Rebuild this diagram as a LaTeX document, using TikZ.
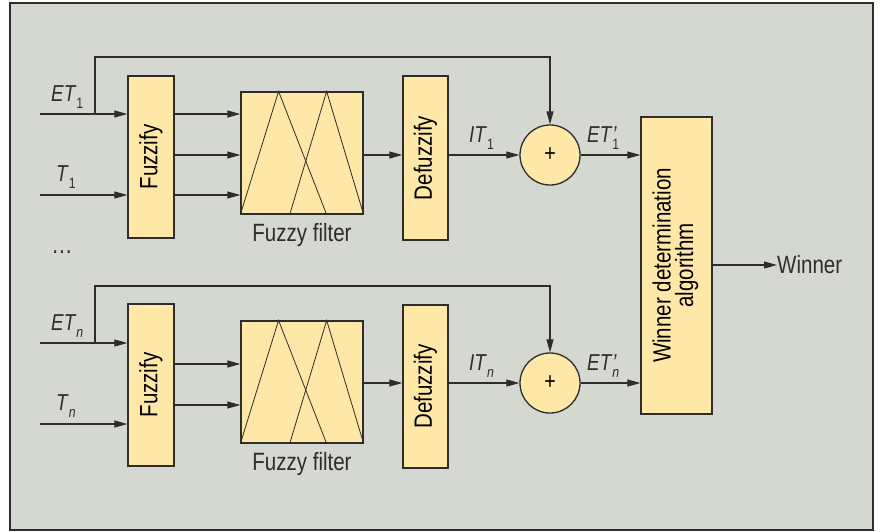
\documentclass[tikz,border=0pt]{standalone}
\usepackage{fontspec}
\setmainfont{Liberation Sans}[FakeStretch=0.82]
\usetikzlibrary{arrows.meta,calc}
\definecolor{bgc}{RGB}{213,216,209}
\definecolor{boxc}{RGB}{255,231,167}
\definecolor{linec}{RGB}{45,45,45}
\newcommand{\lbl}[3]{\textit{#1}\makebox[0pt][l]{\textit{#3}}\raisebox{-7pt}{\fontsize{15}{15}\selectfont #2}}
\begin{document}
\begin{tikzpicture}[x=1pt,y=-1pt,
  box/.style={draw=linec,fill=boxc,line width=1.3pt,inner sep=0pt,font=\fontsize{25}{25}\selectfont},
  conn/.style={draw=linec,line width=1.1pt},
  arr/.style={conn,-{Triangle[length=13pt,width=7pt]}},
  lab/.style={font=\fontsize{23}{23}\selectfont,inner sep=0pt,anchor=base west,text=linec}]
\useasboundingbox (0,0) rectangle (880,531);
\fill[bgc,draw=linec,line width=1.2pt] (10,3) rectangle (873,530);
% ---------- top channel ----------
\node[box,minimum width=46,minimum height=162] (fz1) at (151,157) {\rotatebox{90}{Fuzzify}};
\node[box,minimum width=122,minimum height=122] (ff1) at (302,153) {};
\node[box,minimum width=45,minimum height=164] (df1) at (425.5,158) {\rotatebox{90}{Defuzzify}};
\node[box,circle,minimum size=60,font=\fontsize{24}{24}\selectfont] (s1) at (550,155) {+};
% ---------- bottom channel ----------
\node[box,minimum width=46,minimum height=162] (fz2) at (151,385) {\rotatebox{90}{Fuzzify}};
\node[box,minimum width=122,minimum height=122] (ff2) at (302,382) {};
\node[box,minimum width=45,minimum height=163] (df2) at (425.5,386.5) {\rotatebox{90}{Defuzzify}};
\node[box,circle,minimum size=60,font=\fontsize{24}{24}\selectfont] (s2) at (550,383) {+};
% ---------- winner ----------
\node[box,minimum width=71,minimum height=297] (wd) at (676.5,265.5) {\rotatebox{90}{\begin{tabular}{@{}c@{}}Winner determination\\[-3pt]algorithm\end{tabular}}};
\node[font=\fontsize{25}{25}\selectfont,anchor=west,inner sep=0pt,text=linec] (win) at (777,265) {Winner};
% triangles in filters
\foreach \f in {ff1,ff2}{
  \draw[linec,line width=0.8pt] (\f.south west) -- ($(\f.north west)!0.31!(\f.north east)$) -- ($(\f.south west)!0.70!(\f.south east)$);
  \draw[linec,line width=0.8pt] ($(\f.south west)!0.40!(\f.south east)$) -- ($(\f.north west)!0.70!(\f.north east)$) -- (\f.south east);
}
\node[font=\fontsize{25}{25}\selectfont,anchor=north,inner sep=0pt,text=linec] (fl1) at ($(ff1.south)+(0,9)$) {Fuzzy filter};
\node[font=\fontsize{25}{25}\selectfont,anchor=north,inner sep=0pt,text=linec] (fl2) at ($(ff2.south)+(0,9)$) {Fuzzy filter};
% inputs
\coordinate (et1) at (40,114);
\coordinate (t1) at (40,195);
\coordinate (etn) at (40,343);
\coordinate (tn) at (40,424);
\draw[arr] (et1) -- (et1 -| fz1.west);
\draw[arr] (t1) -- (t1 -| fz1.west);
\draw[arr] (etn) -- (etn -| fz2.west);
\draw[arr] (tn) -- (tn -| fz2.west);
\node[lab] (let1) at (51,101) {\lbl{ET}{1}{}};
\node[lab] (lt1) at (56,181) {\lbl{T}{1}{}};
\node[lab] (letn) at (51,330) {\lbl{ET}{\textit{n}}{}};
\node[lab] (ltn) at (56,410) {\lbl{T}{\textit{n}}{}};
\node[font=\fontsize{26}{26}\selectfont,inner sep=0pt,text=linec] (dots) at (62,252) {…};
% feedback
\draw[arr] (95,114) |- (95,57) -| (s1.north);
\draw[arr] (95,343) |- (95,286) -| (s2.north);
% fuzzify -> filter
\foreach \y in {114,155,195}{\draw[arr] (fz1.east |- 0,\y) -- (ff1.west |- 0,\y);}
\foreach \y in {364,405}{\draw[arr] (fz2.east |- 0,\y) -- (ff2.west |- 0,\y);}
% filter -> defuzzify
\draw[arr] (ff1.east |- 0,155) -- (df1.west |- 0,155);
\draw[arr] (ff2.east |- 0,383) -- (df2.west |- 0,383);
% defuzzify -> sum
\draw[arr] (df1.east |- s1) -- (s1.west);
\draw[arr] (df2.east |- s2) -- (s2.west);
\node[lab] (lit1) at (469,142) {\lbl{IT}{1}{}};
\node[lab] (litn) at (469,370) {\lbl{IT}{\textit{n}}{}};
% sum -> winner
\draw[arr] (s1.east) -- (s1 -| wd.west);
\draw[arr] (s2.east) -- (s2 -| wd.west);
\node[lab] (let1p) at (587,142) {\lbl{ET}{1}{’}};
\node[lab] (letnp) at (587,370) {\lbl{ET}{\textit{n}}{’}};
% winner output
\draw[arr] (wd.east |- win) -- (win.west);
\end{tikzpicture}
\end{document}
